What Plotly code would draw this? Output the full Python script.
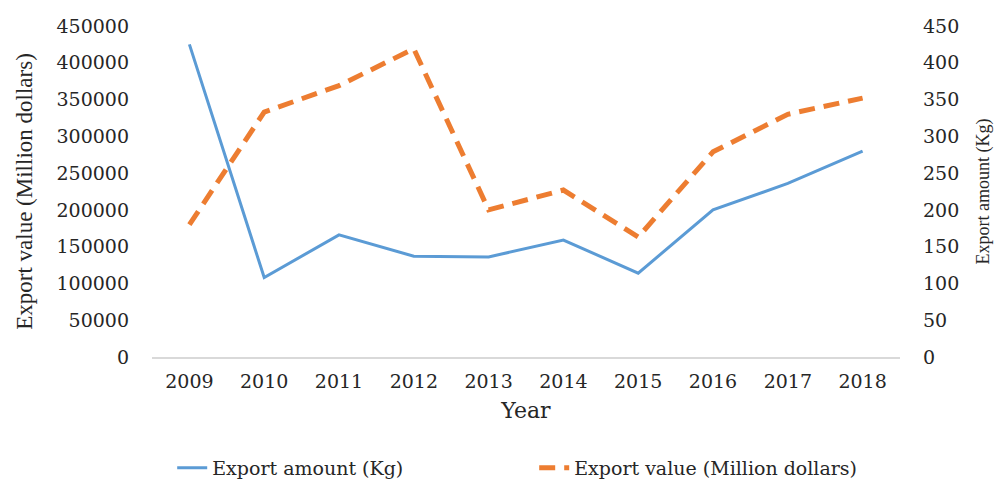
import plotly.graph_objects as go

years = ["2009", "2010", "2011", "2012", "2013", "2014", "2015", "2016", "2017", "2018"]
export_amount_kg = [425000, 108000, 166000, 137000, 136000, 159000, 114000, 200000, 236000, 280000]
export_value_musd = [180, 333, 369, 419, 200, 227, 163, 279, 330, 352]

left_ticks = [0, 50000, 100000, 150000, 200000, 250000, 300000, 350000, 400000, 450000]
right_ticks = [0, 50, 100, 150, 200, 250, 300, 350, 400, 450]

SERIF_W = "DejaVu Serif"
SERIF = "Liberation Serif"
TXT = "#262626"

fig = go.Figure()
fig.add_trace(go.Scatter(
    x=years, y=export_amount_kg, name="Export amount (Kg)", mode="lines",
    line=dict(color="#5B9BD5", width=3), yaxis="y"))
fig.add_trace(go.Scatter(
    x=years, y=export_value_musd, name="Export value (Million dollars)", mode="lines",
    line=dict(color="#ED7D31", width=5, dash="16px,9px"), yaxis="y2"))

fig.update_layout(
    width=997, height=479,
    margin=dict(l=144, r=105, t=18, b=130, autoexpand=False),
    paper_bgcolor="white", plot_bgcolor="white",
    font=dict(family=SERIF_W, color=TXT, size=17),
    showlegend=True,
    legend=dict(orientation="h", x=0.027, xanchor="left", y=-0.335, yanchor="middle",
                font=dict(family=SERIF_W, size=19, color=TXT),
                entrywidth=317, entrywidthmode="pixels", tracegroupgap=0),
    xaxis=dict(type="category", range=[-0.5, 9.5], showgrid=False, automargin=False,
               showline=True, linecolor="#D9D9D9", linewidth=1.5, ticks="",
               tickfont=dict(family=SERIF_W, size=19), ticklabelstandoff=6,
               title=dict(text="Year", font=dict(family=SERIF_W, size=22), standoff=12)),
    yaxis=dict(range=[0, 450000], tickvals=left_ticks, ticktext=[str(v) for v in left_ticks],
               showgrid=False, zeroline=False, automargin=False,
               showline=False, ticks="", tickfont=dict(family=SERIF_W, size=19), ticklabelstandoff=22,
               title=dict(text="Export value (Million dollars)", font=dict(family=SERIF, size=23), standoff=17)),
    yaxis2=dict(range=[0, 450], tickvals=right_ticks, ticktext=[str(v) for v in right_ticks],
                overlaying="y", side="right", automargin=False,
                showgrid=False, zeroline=False, showline=False, ticks="",
                tickfont=dict(family=SERIF_W, size=19), ticklabelstandoff=22,
                title=dict(text="Export amount (Kg)", font=dict(family=SERIF, size=18), standoff=18)),
)

fig.write_html("out.html")
